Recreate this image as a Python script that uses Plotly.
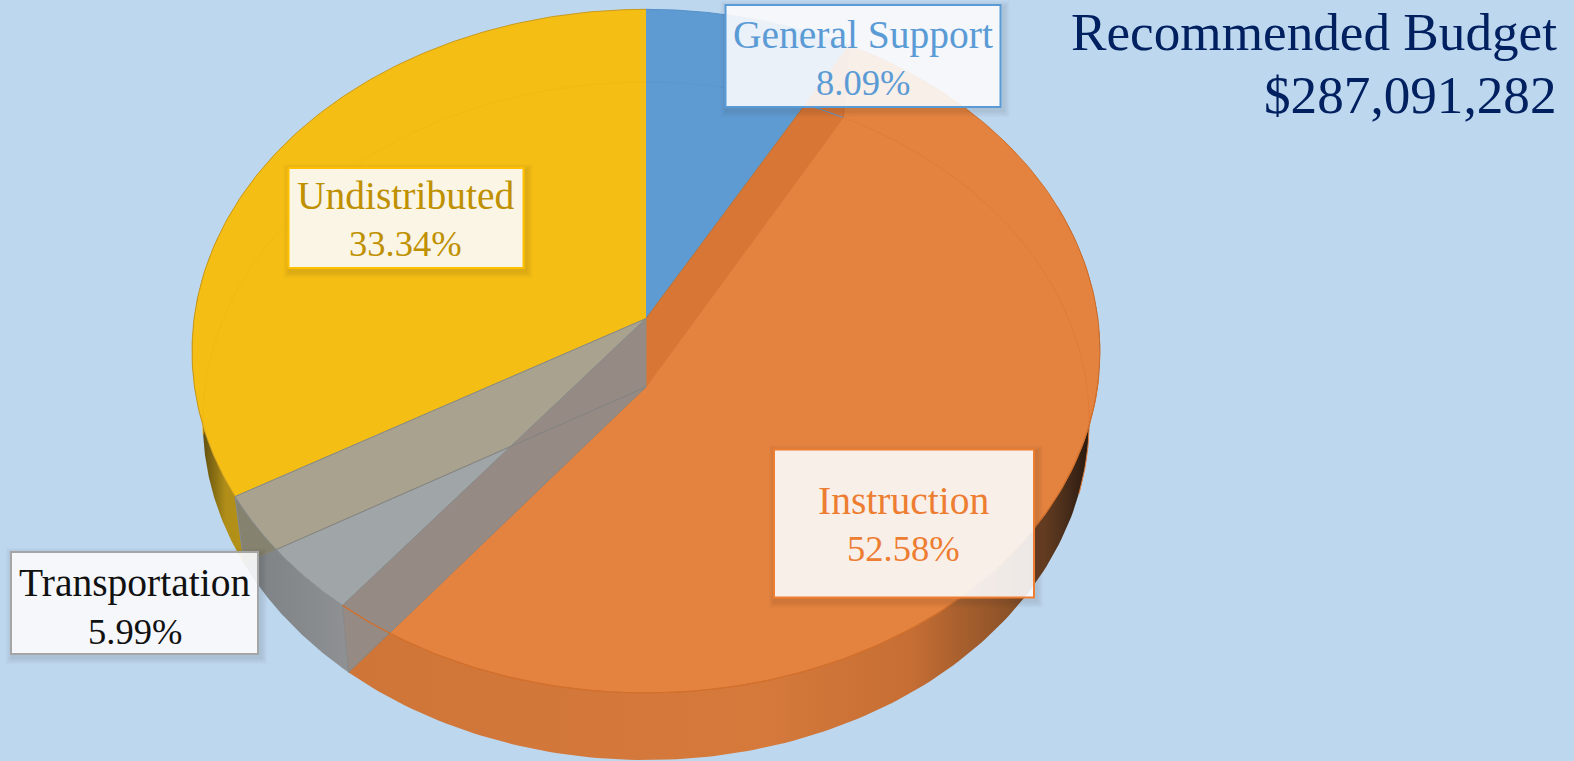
import numpy as np
import plotly.graph_objects as go

categories = ["General Support", "Instruction", "Transportation", "Undistributed"]
shares = [8.09, 52.58, 5.99, 33.34]
share_text = ["8.09%", "52.58%", "5.99%", "33.34%"]
top_colors = ["#5F9BD3", "#E4823F", "#A0A5A8", "#F5BE14"]
rim_colors = ["#5590C8", "#CE6E2C", "#8C9094", "#C99A1C"]
faint_colors = ["#5A96D0", "#E07C3A", "#9A9FA2", "#F3BA12"]
text_colors = ["#5B9BD5", "#ED7D31", "#111111", "#BF9000"]
border_colors = ["#5B9BD5", "#ED7D31", "#A5A5A5", "#FFC000"]
label_centers = [(863, 56), (904, 523.5), (134.5, 603), (406, 218)]
label_sizes = [(277, 104), (262, 150), (249, 104), (237, 102)]
label_text_shift = [(0, 2.5), (-1, 1), (0, 4), (-1, 1.5)]
title_lines = ["Recommended Budget", "$287,091,282"]

# Perspective frustum: apex position, half-width factor, vertical factor, perspective
TOP = dict(cx=646.0, cy=318.5, c=451.9, b=338.7, a=0.0955)
BOT = dict(cx=646.0, cy=387.0, c=441.0, b=335.6, a=0.1003)


def pt(surface, deg):
    t = np.radians(deg)
    w = 1 + surface["a"] * np.cos(t)
    return (surface["cx"] + surface["c"] * np.sin(t) / w,
            surface["cy"] - surface["b"] * np.cos(t) / w)


def arc(surface, d0, d1, n=160):
    return pt(surface, np.linspace(d0, d1, n))


edges = np.concatenate([[0], np.cumsum(shares)]) / sum(shares) * 360
a_gen, a_ins, a_tra = edges[1], edges[2], edges[3]

fig = go.Figure()


def poly(x, y, color=None, gradient=None):
    kw = dict(fillgradient=dict(type="horizontal", colorscale=gradient)) if gradient else dict(fillcolor=color)
    fig.add_trace(go.Scatter(x=list(x), y=list(y), mode="lines", fill="toself",
                             line=dict(width=0), hoverinfo="skip", showlegend=False, **kw))


def line(x, y, color, width=1.0):
    fig.add_trace(go.Scatter(x=list(x), y=list(y), mode="lines", line=dict(color=color, width=width),
                             hoverinfo="skip", showlegend=False))


def side(d0, d1, gradient):
    tx, ty = arc(TOP, d0, d1)
    bx, by = arc(BOT, d1, d0)
    poly(np.r_[tx, bx], np.r_[ty, by], gradient=gradient)


def wedge(surface, d0, d1, color):
    x, y = arc(surface, d0, d1)
    poly(np.r_[surface["cx"], x], np.r_[surface["cy"], y], color)


def wall(deg, color):
    tx, ty = pt(TOP, deg)
    bx, by = pt(BOT, deg)
    poly([TOP["cx"], tx, bx, BOT["cx"]], [TOP["cy"], ty, by, BOT["cy"]], color)


# outer side walls
side(a_tra, 305, [[0, "#4A3C10"], [0.12, "#6A5610"], [0.3, "#B08E18"], [1, "#C29C18"]])
side(a_ins, a_tra, [[0, "#7B8084"], [0.5, "#84888B"], [1, "#8F9193"]])
side(70, a_ins, [[0, "#CE7537"], [0.55, "#D67A3C"], [0.75, "#C66E34"], [0.88, "#8C5228"],
                 [0.95, "#4E301C"], [1, "#1A100A"]])

# top surfaces
for i in [3, 1, 0, 2]:
    wedge(TOP, edges[i], edges[i + 1], top_colors[i])

# interior radial walls seen through the translucent surfaces
wall(a_gen, "#D87635")
wall(a_tra, "#A8A28E")
# part of the Undistributed wall that lies beyond the top rim
bx, by = pt(BOT, a_tra)
slope = (BOT["cy"] - by) / (BOT["cx"] - bx)
degs = np.linspace(a_tra, a_ins, 200)
ax, ay = pt(TOP, degs)
keep = ay <= by + slope * (ax - bx)
poly(np.r_[ax[keep], bx], np.r_[ay[keep], by], "#85836F")
wall(a_ins, "#958A84")

# faint inner rim (far edge of the base seen through the surfaces)
for i, d0, d1 in [(0, 0, a_gen), (1, a_gen, 108), (3, 262, 360)]:
    x, y = arc(BOT, d0, d1)
    line(x, y, faint_colors[i], 1)
line([BOT["cx"], pt(BOT, a_tra)[0]], [BOT["cy"], pt(BOT, a_tra)[1]], "rgba(125,130,132,0.7)", 1)

# radial edges and rims
for i in range(4):
    x, y = arc(TOP, edges[i], edges[i + 1])
    line(x, y, rim_colors[i], 1)
for d, col in [(a_gen, "#B0743F"), (a_ins, "#85898B"), (a_tra, "#85877F")]:
    x1, y1 = pt(TOP, d)
    line([TOP["cx"], x1], [TOP["cy"], y1], col, 1)
    x2, y2 = pt(BOT, d)
    line([x1, x2], [y1, y2], "#85898B" if d != a_gen else "#C97135", 1)
    line([BOT["cx"], x2], [BOT["cy"], y2], "#87857F" if d != a_gen else "#D87635", 0.8)
line([TOP["cx"], BOT["cx"]], [TOP["cy"], BOT["cy"]], "#8F8A86", 0.8)
x, y = arc(TOP, 100, a_ins)
line(x, y, "#D2702C", 1.2)

shapes = []
annotations = []
for name, val, (cx, cy), (w, h), tc, bc, (sx, sy) in zip(categories, share_text, label_centers, label_sizes,
                                                         text_colors, border_colors, label_text_shift):
    x0, x1, y0, y1 = cx - w / 2, cx + w / 2, cy - h / 2, cy + h / 2
    for k in range(1, 7):
        ox0, ox1, oy0, oy1 = x0 - k + 2, x1 + k + 2, y0 - k + 3, y1 + k + 3
        path = (f"M{ox0},{oy0}L{ox1},{oy0}L{ox1},{oy1}L{ox0},{oy1}Z"
                f"M{x0},{y0}L{x0},{y1}L{x1},{y1}L{x1},{y0}Z")
        shapes.append(dict(type="path", path=path, xref="x", yref="y", layer="above",
                           fillcolor="rgba(40,50,70,0.02)", line=dict(width=0)))
    shapes.append(dict(type="rect", x0=x0 + 1, x1=x1 - 1, y0=y0 + 1, y1=y1 - 1, xref="x", yref="y", layer="above",
                       fillcolor="rgba(251,251,252,0.9)", line=dict(color=bc, width=2)))
    for txt, dy, fs in [(name, -24, 39.5), (val, 24, 36.5)]:
        annotations.append(dict(x=cx + sx, y=cy + dy + sy, xref="x", yref="y", showarrow=False,
                                xanchor="center", yanchor="middle", text=txt,
                                font=dict(family="Liberation Serif", size=fs, color=tc)))

for txt, ty in zip(title_lines, [32, 95]):
    annotations.append(dict(x=1559, y=ty, xref="x", yref="y", showarrow=False, xanchor="right", yanchor="middle",
                            text=txt, font=dict(family="Liberation Serif", size=53.2, color="#002060")))

fig.update_layout(
    width=1574, height=761, margin=dict(l=0, r=0, t=0, b=0),
    paper_bgcolor="#BDD7EE", plot_bgcolor="#BDD7EE", showlegend=False,
    xaxis=dict(range=[0, 1574], visible=False, fixedrange=True),
    yaxis=dict(range=[761, 0], visible=False, fixedrange=True),
    shapes=shapes, annotations=annotations,
)
fig.write_html("out.html", config=dict(displayModeBar=False),
               post_script="document.body.style.margin='0';document.body.style.overflow='hidden';"
                           "document.documentElement.style.background='#BDD7EE';")
